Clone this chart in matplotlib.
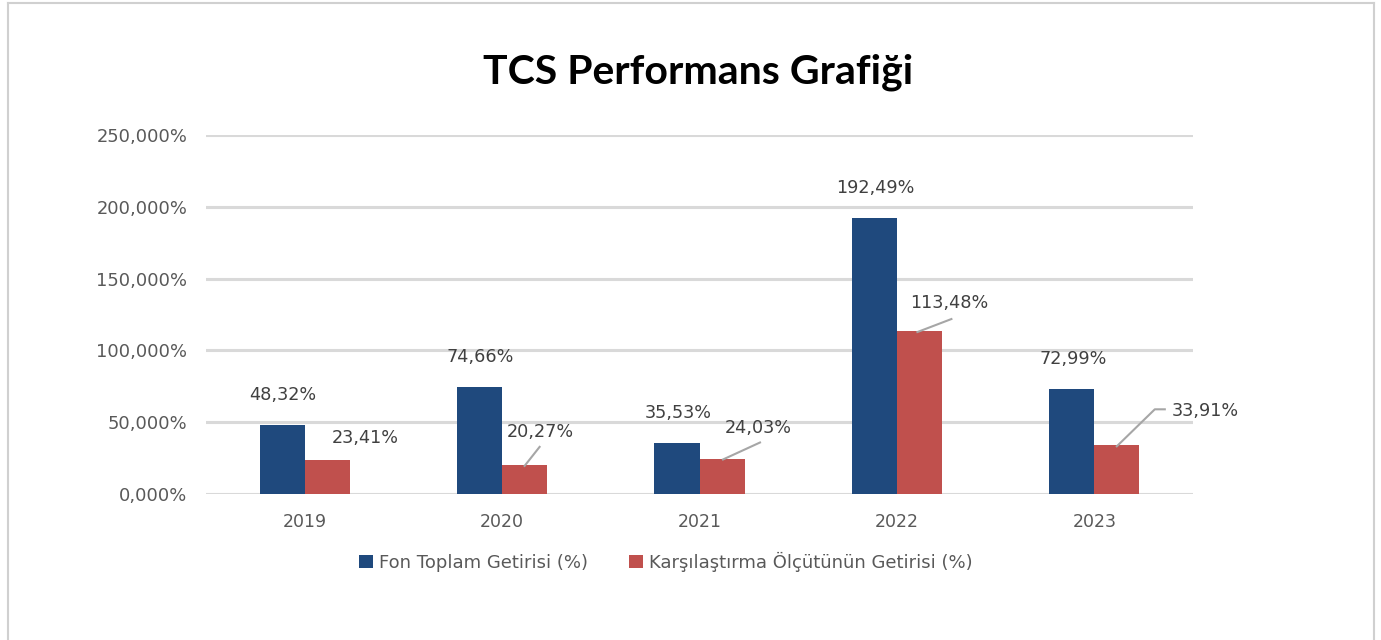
import matplotlib
matplotlib.use("Agg")
import matplotlib.pyplot as plt
import numpy as np
from matplotlib.lines import Line2D

years = ["2019", "2020", "2021", "2022", "2023"]
fon = [48.32, 74.66, 35.53, 192.49, 72.99]
olcut = [23.41, 20.27, 24.03, 113.48, 33.91]
fon_labels = ["48,32%", "74,66%", "35,53%", "192,49%", "72,99%"]
olcut_labels = ["23,41%", "20,27%", "24,03%", "113,48%", "33,91%"]
yticks = [0, 50, 100, 150, 200, 250]
ytick_labels = ["0,000%", "50,000%", "100,000%", "150,000%", "200,000%", "250,000%"]
series_names = ["Fon Toplam Getirisi (%)", "Karşılaştırma Ölçütünün Getirisi (%)"]
title = "TCS Performans Grafiği"

BLUE = "#1F497D"
RED = "#C0504D"
GRID = "#D9D9D9"
TXT = "#404040"
TICK = "#595959"

W, H = 1381, 640
fig = plt.figure(figsize=(W / 100, H / 100), dpi=100)
fig.patch.set_facecolor("white")

# outer chart border (left, top, right)
for xs, ys in [((7.5 / W, 7.5 / W), (0, 1 - 2.5 / H)),
               ((7.5 / W, 1 - 7.5 / W), (1 - 2.5 / H, 1 - 2.5 / H)),
               ((1 - 7.5 / W, 1 - 7.5 / W), (0, 1 - 2.5 / H))]:
    fig.add_artist(Line2D(xs, ys, color="#D0D0D0", lw=1.5, transform=fig.transFigure))

ax = fig.add_axes([206 / W, (H - 494) / H, (1193 - 206) / W, (494 - 135) / H])
x = np.arange(len(years))
bw = 0.228
b1 = ax.bar(x - bw / 2, fon, bw, color=BLUE, label=series_names[0], zorder=3)
b2 = ax.bar(x + bw / 2, olcut, bw, color=RED, label=series_names[1], zorder=3)

ax.set_xlim(-0.5, len(years) - 0.5)
ax.set_ylim(0, 250)
ax.set_yticks(yticks)
ax.set_yticklabels(ytick_labels, fontsize=12.9, color=TICK, family="DejaVu Sans")
ax.set_xticks(x)
ax.set_xticklabels(years, fontsize=12.5, color=TICK, family="DejaVu Sans")
ax.tick_params(axis="both", length=0)
ax.tick_params(axis="y", pad=13.5)
ax.tick_params(axis="x", pad=14)
for s in ax.spines.values():
    s.set_visible(False)
ax.grid(axis="y", color=GRID, lw=2.2, zorder=0)
ax.set_axisbelow(True)

# labels for Fon series
for xi, v, lab in zip(x, fon, fon_labels):
    ax.annotate(lab, xy=(xi - bw / 2, v), xytext=(1, 30), textcoords="offset pixels",
                ha="center", va="center", fontsize=12.7, color=TXT, family="DejaVu Sans")

# labels for benchmark series with leader lines
label_off = [(38, 22), (16, 33), (36, 31), (30, 28), (88, 34)]
leaders = [None, [(0, -1), (15, 18)], [(1, 0), (38, 17)], [(-2, -1), (32, 12)],
           [(0, -1), (38, 36), (48, 36)]]
for xi, v, lab, off, ld in zip(x, olcut, olcut_labels, label_off, leaders):
    ax.annotate(lab, xy=(xi + bw / 2, v), xytext=off, textcoords="offset pixels",
                ha="center", va="center", fontsize=12.7, color=TXT, family="DejaVu Sans")
    if ld:
        base = ax.transData.transform((xi + bw / 2, v))
        pts = [fig.dpi_scale_trans.inverted().transform(base + np.array(p)) for p in ld]
        fig.add_artist(Line2D([pp[0] for pp in pts], [pp[1] for pp in pts],
                              color="#A6A6A6", lw=1.5, transform=fig.dpi_scale_trans, zorder=5))

fig.text(698 / W, (H - 72) / H, title, ha="center", va="center", fontsize=29.5, fontweight="bold",
         family="Lato", color="black")

leg = fig.legend(handles=[b1, b2], loc="center", bbox_to_anchor=(666 / W, (H - 562) / H),
                 ncol=2, frameon=False, handlelength=0.75, handleheight=0.75,
                 handletextpad=0.35, columnspacing=2.3, prop={"family": "DejaVu Sans", "size": 13})
for t in leg.get_texts():
    t.set_color(TICK)

fig.savefig("out.png", dpi=100, facecolor="white")
